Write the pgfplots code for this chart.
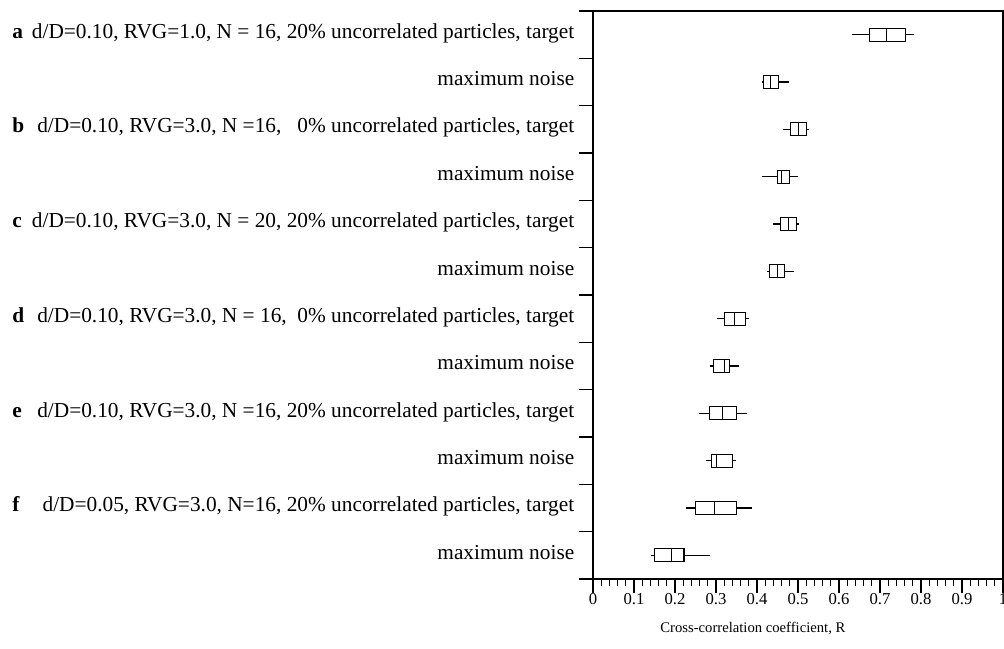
\documentclass[border=0pt]{standalone}
\usepackage{fontspec}
\setmainfont{Liberation Serif}
\usepackage{pgfplots}
\pgfplotsset{compat=1.18}
\usepgfplotslibrary{statistics}
% target rows: bold letter at the far left, text flush right
\newcommand{\tl}[2]{\makebox[421.5pt]{\textbf{#1}\hfill #2}}
% prepared boxplot: position, lower whisker, lower quartile, median, upper quartile, upper whisker
\newcommand{\bp}[6]{\addplot[black, line width=0.8pt, boxplot prepared={draw position=#1,
  lower whisker=#2, lower quartile=#3, median=#4, upper quartile=#5, upper whisker=#6}]
  coordinates {};}
\begin{document}
\begin{tikzpicture}
\begin{axis}[
  at={(0,0)}, anchor=south west, scale only axis,
  width=307.5pt, height=426pt,
  xmin=0, xmax=1, ymin=0.5, ymax=12.5,
  axis line style={line width=0.9pt},
  tick align=outside, xtick pos=bottom, ytick pos=left,
  tick style={black, line width=0.8pt},
  major tick length=10.5pt, minor tick length=5pt,
  xtick={0,0.1,...,1}, minor x tick num=4,
  /pgf/number format/assume math mode=true,
  xticklabel style={font=\fontsize{12.5}{14}\selectfont, yshift=3.5pt},
  xlabel={Cross-correlation coefficient, R},
  xlabel style={font=\fontsize{11}{13}\selectfont, at={(axis description cs:0.39,0)},
    anchor=center, yshift=-36.75pt},
  ytick={0.5,1.5,...,12.5}, yticklabels={},
  extra y ticks={1,...,12},
  extra y tick style={major tick length=0pt},
  extra y tick labels={
    {maximum noise},
    {\tl{f}{d/D=0.05, RVG=3.0, N=16, 20\% uncorrelated particles, target}},
    {maximum noise},
    {\tl{e}{d/D=0.10, RVG=3.0, N =16, 20\% uncorrelated particles, target}},
    {maximum noise},
    {\tl{d}{d/D=0.10, RVG=3.0, N = 16,\ \ 0\% uncorrelated particles, target}},
    {maximum noise},
    {\tl{c}{d/D=0.10, RVG=3.0, N = 20, 20\% uncorrelated particles, target}},
    {maximum noise},
    {\tl{b}{d/D=0.10, RVG=3.0, N =16,\ \ \ 0\% uncorrelated particles, target}},
    {maximum noise},
    {\tl{a}{d/D=0.10, RVG=1.0, N = 16, 20\% uncorrelated particles, target}}},
  yticklabel style={font=\fontsize{16}{18}\selectfont, text height=1.6ex, text depth=0.4ex,
    xshift=-10.5pt},
  boxplot/draw direction=x,
  boxplot/box extend=0.27,
  boxplot/whisker extend=0,
]
\bp{12}{0.631}{0.674}{0.715}{0.763}{0.783}
\bp{11}{0.411}{0.417}{0.434}{0.452}{0.478}
\bp{10}{0.464}{0.482}{0.502}{0.520}{0.527}
\bp{9}{0.411}{0.449}{0.460}{0.480}{0.499}
\bp{8}{0.440}{0.458}{0.477}{0.496}{0.502}
\bp{7}{0.424}{0.430}{0.450}{0.467}{0.490}
\bp{6}{0.302}{0.320}{0.346}{0.371}{0.380}
\bp{5}{0.285}{0.295}{0.320}{0.334}{0.357}
\bp{4}{0.259}{0.285}{0.316}{0.350}{0.375}
\bp{3}{0.276}{0.289}{0.302}{0.340}{0.350}
\bp{2}{0.226}{0.250}{0.296}{0.350}{0.389}
\bp{1}{0.141}{0.150}{0.191}{0.222}{0.285}
\end{axis}
\pgfresetboundingbox
\path[use as bounding box] (-444.75pt,-52.5pt) rectangle (308.25pt,434.25pt);
\end{tikzpicture}
\end{document}
